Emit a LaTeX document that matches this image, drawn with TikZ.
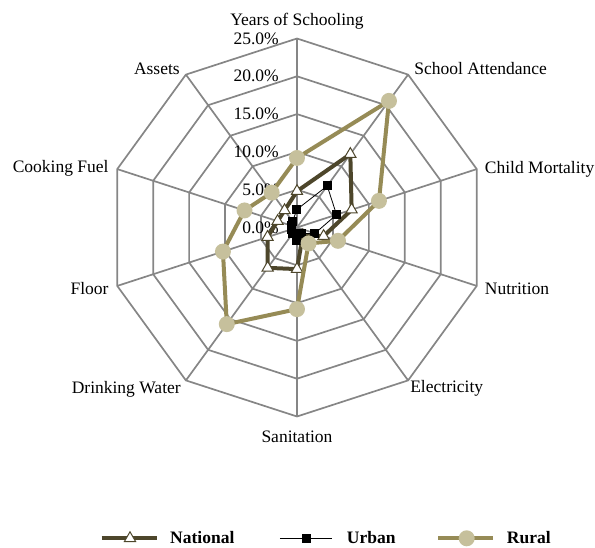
\documentclass[tikz,border=0pt]{standalone}
\usepackage{fontspec}
\setmainfont{Liberation Serif}
\usetikzlibrary{shapes.geometric}
\definecolor{gradecor}{RGB}{134,134,134}
\definecolor{nac}{RGB}{77,70,43}
\definecolor{rur}{RGB}{150,139,86}
\definecolor{rurclaro}{RGB}{198,192,156}

\begin{document}
\begin{tikzpicture}[x=1pt,y=1pt,
    grade/.style={draw=gradecor,line width=1.7pt},
    rotulo/.style={font=\fontsize{17.5}{20}\selectfont,inner sep=0pt},
    legenda/.style={font=\fontsize{17.5}{20}\selectfont\bfseries,inner sep=0pt,anchor=base west},
    linhanac/.style={draw=nac,line width=4pt,line join=round},
    linhaurb/.style={draw=black,line width=0.8pt,line join=round},
    linharur/.style={draw=rur,line width=4pt,line join=round},
    tri/.style={regular polygon,regular polygon sides=3,minimum size=13pt,inner sep=0pt,draw=nac,fill=white,line width=1pt},
    quad/.style={rectangle,minimum size=9pt,inner sep=0pt,fill=black},
    bola/.style={circle,minimum size=16pt,inner sep=0pt,fill=rurclaro}]
\useasboundingbox (-297,-319.5) rectangle (298,227.5);
\def\R{189}
\def\u{7.56}
% Grade
\coordinate (o) at (0,0);
\foreach \k in {0,...,9}
    \coordinate (v\k) at ({90-36*\k}:\R);
\foreach \r in {1,...,5}
    \draw[grade] (90:\r*37.8) \foreach \k in {1,...,9}{ -- ({90-36*\k}:\r*37.8)} -- cycle;
\foreach \k in {0,...,9}
    \draw[grade] (o) -- (v\k);
% Escala
\foreach \p [count=\r from 0] in {0.0,5.0,10.0,15.0,20.0,25.0}
    \node[rotulo,anchor=base east] (t\r) at (-18,\r*37.8-5.5) {\p\%};
% Eixos
\node[rotulo,anchor=base] (l0) at ([yshift=13.3pt]v0) {Years of Schooling};
\node[rotulo,anchor=base west] (l1) at ([xshift=6pt]v1) {School Attendance};
\node[rotulo,anchor=base west] (l2) at ([xshift=8pt,yshift=-4.5pt]v2) {Child Mortality};
\node[rotulo,anchor=base west] (l3) at ([xshift=8pt,yshift=-8.5pt]v3) {Nutrition};
\node[rotulo,anchor=base west] (l4) at ([xshift=2pt,yshift=-11.7pt]v4) {Electricity};
\node[rotulo,anchor=base] (l5) at ([yshift=-25.5pt]v5) {Sanitation};
\node[rotulo,anchor=base east] (l6) at ([xshift=-5pt,yshift=-12.6pt]v6) {Drinking Water};
\node[rotulo,anchor=base east] (l7) at ([xshift=-8.5pt,yshift=-8.3pt]v7) {Floor};
\node[rotulo,anchor=base east] (l8) at ([xshift=-8.5pt,yshift=-3.3pt]v8) {Cooking Fuel};
\node[rotulo,anchor=base east] (l9) at ([xshift=-6pt]v9) {Assets};
% National
\foreach \v [count=\k from 0] in {4.8,12.0,7.6,3.7,1.3,5.5,6.6,4.1,2.7,2.8}
    \coordinate (n\k) at ({90-36*\k}:\v*\u);
\draw[linhanac] (n0) \foreach \k in {1,...,9}{ -- (n\k)} -- cycle;
\foreach \k in {0,...,9}
    \node[tri] (nm\k) at (n\k) {};
% Urban
\foreach \v [count=\k from 0] in {2.4,6.8,5.5,2.5,1.0,1.7,1.0,0.8,0.8,1.0}
    \coordinate (u\k) at ({90-36*\k}:\v*\u);
\draw[linhaurb] (u0) \foreach \k in {1,...,9}{ -- (u\k)} -- cycle;
\foreach \k in {0,...,9}
    \node[quad] (um\k) at (u\k) {};
% Rural
\foreach \v [count=\k from 0] in {9.2,20.7,11.4,5.7,2.6,10.8,15.8,10.3,7.3,5.7}
    \coordinate (r\k) at ({90-36*\k}:\v*\u);
\draw[linharur] (r0) \foreach \k in {1,...,9}{ -- (r\k)} -- cycle;
\foreach \k in {0,...,9}
    \node[bola] (rm\k) at (r\k) {};
% Legenda
\coordinate (na) at (-195.3,-310.8);
\coordinate (nb) at (-140.3,-310.8);
\draw[linhanac] (na) -- (nb);
\node[tri] (ln) at (-167,-310.8) {};
\node[legenda] (tn) at (-127,-315.8) {National};
\coordinate (ua) at (-17,-310.8);
\coordinate (ub) at (34.7,-310.8);
\draw[linhaurb] (ua) -- (ub);
\node[quad] (lu) at (9.7,-310.8) {};
\node[legenda] (tu) at (49.7,-315.8) {Urban};
\coordinate (ra) at (141.3,-310.8);
\coordinate (rb) at (196.3,-310.8);
\draw[linharur] (ra) -- (rb);
\node[bola] (lr) at (169.7,-310.8) {};
\node[legenda] (tr) at (209.7,-315.8) {Rural};
\end{tikzpicture}
\end{document}
